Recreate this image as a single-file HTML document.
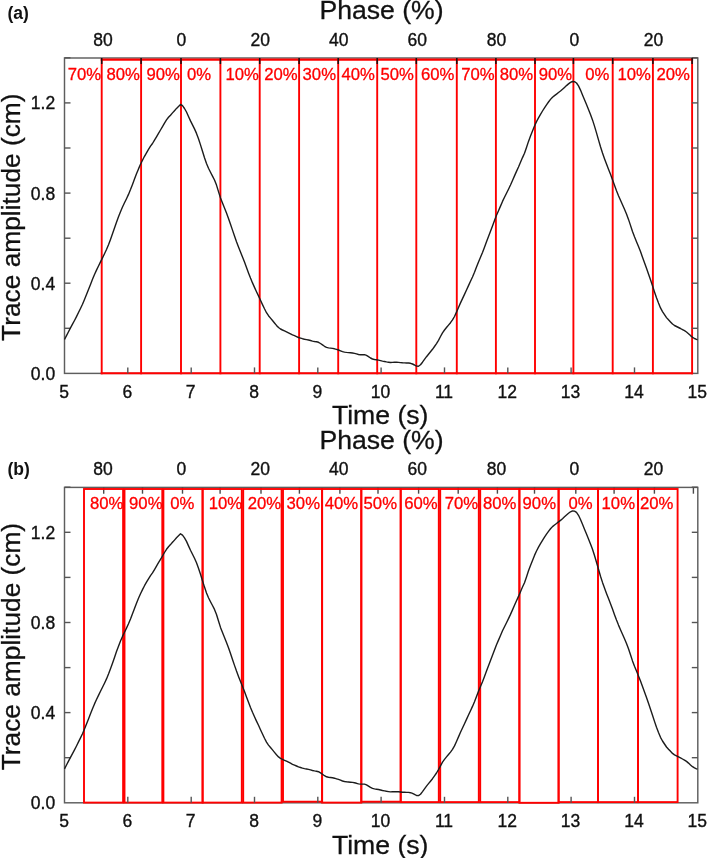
<!DOCTYPE html>
<html><head><meta charset="utf-8"><title>Trace amplitude vs time with phase bins</title>
<style>
html,body{margin:0;padding:0;background:#fff;}
svg{display:block;}
text{font-family:"Liberation Sans", sans-serif;}
.t{font-size:17.5px;fill:#111;stroke:#111;stroke-width:0.35px;}
.T{font-size:26.6px;fill:#111;stroke:#111;stroke-width:0.3px;}
.Tv{font-size:26.3px;}
.B{font-size:17.5px;font-weight:bold;fill:#111;}
.r{font-size:16.7px;fill:#ff0000;stroke:#ff0000;stroke-width:0.3px;}
</style></head>
<body>
<svg width="709" height="858" viewBox="0 0 709 858">
<rect width="709" height="858" fill="#fff"/>
<rect x="64.5" y="58.0" width="633.3" height="315.4" fill="none" stroke="#5e5e5e" stroke-width="1.45"/>
<line x1="100.7" y1="59.6" x2="693.1" y2="59.6" stroke="#ff0000" stroke-width="2.1"/>
<line x1="100.7" y1="373.2" x2="693.1" y2="373.2" stroke="#ff0000" stroke-width="2.1"/>
<line x1="101.7" y1="58.6" x2="101.7" y2="374.2" stroke="#ff0000" stroke-width="1.9"/>
<line x1="141.1" y1="58.6" x2="141.1" y2="374.2" stroke="#ff0000" stroke-width="1.9"/>
<line x1="181.0" y1="58.6" x2="181.0" y2="374.2" stroke="#ff0000" stroke-width="1.9"/>
<line x1="220.4" y1="58.6" x2="220.4" y2="374.2" stroke="#ff0000" stroke-width="1.9"/>
<line x1="259.7" y1="58.6" x2="259.7" y2="374.2" stroke="#ff0000" stroke-width="1.9"/>
<line x1="299.1" y1="58.6" x2="299.1" y2="374.2" stroke="#ff0000" stroke-width="1.9"/>
<line x1="338.2" y1="58.6" x2="338.2" y2="374.2" stroke="#ff0000" stroke-width="1.9"/>
<line x1="377.2" y1="58.6" x2="377.2" y2="374.2" stroke="#ff0000" stroke-width="1.9"/>
<line x1="416.3" y1="58.6" x2="416.3" y2="374.2" stroke="#ff0000" stroke-width="1.9"/>
<line x1="456.8" y1="58.6" x2="456.8" y2="374.2" stroke="#ff0000" stroke-width="1.9"/>
<line x1="495.9" y1="58.6" x2="495.9" y2="374.2" stroke="#ff0000" stroke-width="1.9"/>
<line x1="535.0" y1="58.6" x2="535.0" y2="374.2" stroke="#ff0000" stroke-width="1.9"/>
<line x1="573.4" y1="58.6" x2="573.4" y2="374.2" stroke="#ff0000" stroke-width="1.9"/>
<line x1="612.7" y1="58.6" x2="612.7" y2="374.2" stroke="#ff0000" stroke-width="1.9"/>
<line x1="652.9" y1="58.6" x2="652.9" y2="374.2" stroke="#ff0000" stroke-width="1.9"/>
<line x1="692.1" y1="58.6" x2="692.1" y2="374.2" stroke="#ff0000" stroke-width="1.9"/>
<line x1="127.8" y1="373.4" x2="127.8" y2="367.4" stroke="#555555" stroke-width="1.4"/>
<line x1="191.2" y1="373.4" x2="191.2" y2="367.4" stroke="#555555" stroke-width="1.4"/>
<line x1="254.5" y1="373.4" x2="254.5" y2="367.4" stroke="#555555" stroke-width="1.4"/>
<line x1="317.8" y1="373.4" x2="317.8" y2="367.4" stroke="#555555" stroke-width="1.4"/>
<line x1="381.1" y1="373.4" x2="381.1" y2="367.4" stroke="#555555" stroke-width="1.4"/>
<line x1="444.5" y1="373.4" x2="444.5" y2="367.4" stroke="#555555" stroke-width="1.4"/>
<line x1="507.8" y1="373.4" x2="507.8" y2="367.4" stroke="#555555" stroke-width="1.4"/>
<line x1="571.1" y1="373.4" x2="571.1" y2="367.4" stroke="#555555" stroke-width="1.4"/>
<line x1="634.5" y1="373.4" x2="634.5" y2="367.4" stroke="#555555" stroke-width="1.4"/>
<line x1="64.5" y1="328.3" x2="70.5" y2="328.3" stroke="#555555" stroke-width="1.4"/>
<line x1="697.8" y1="328.3" x2="691.8" y2="328.3" stroke="#555555" stroke-width="1.4"/>
<line x1="64.5" y1="283.2" x2="70.5" y2="283.2" stroke="#555555" stroke-width="1.4"/>
<line x1="697.8" y1="283.2" x2="691.8" y2="283.2" stroke="#555555" stroke-width="1.4"/>
<line x1="64.5" y1="238.2" x2="70.5" y2="238.2" stroke="#555555" stroke-width="1.4"/>
<line x1="697.8" y1="238.2" x2="691.8" y2="238.2" stroke="#555555" stroke-width="1.4"/>
<line x1="64.5" y1="193.1" x2="70.5" y2="193.1" stroke="#555555" stroke-width="1.4"/>
<line x1="697.8" y1="193.1" x2="691.8" y2="193.1" stroke="#555555" stroke-width="1.4"/>
<line x1="64.5" y1="148.0" x2="70.5" y2="148.0" stroke="#555555" stroke-width="1.4"/>
<line x1="697.8" y1="148.0" x2="691.8" y2="148.0" stroke="#555555" stroke-width="1.4"/>
<line x1="64.5" y1="102.9" x2="70.5" y2="102.9" stroke="#555555" stroke-width="1.4"/>
<line x1="697.8" y1="102.9" x2="691.8" y2="102.9" stroke="#555555" stroke-width="1.4"/>
<line x1="64.5" y1="57.8" x2="70.5" y2="57.8" stroke="#555555" stroke-width="1.4"/>
<line x1="697.8" y1="57.8" x2="691.8" y2="57.8" stroke="#555555" stroke-width="1.4"/>
<line x1="101.7" y1="58.0" x2="101.7" y2="64.0" stroke="#111" stroke-width="1.5"/>
<line x1="141.1" y1="58.0" x2="141.1" y2="64.0" stroke="#111" stroke-width="1.5"/>
<line x1="181.0" y1="58.0" x2="181.0" y2="64.0" stroke="#111" stroke-width="1.5"/>
<line x1="220.4" y1="58.0" x2="220.4" y2="64.0" stroke="#111" stroke-width="1.5"/>
<line x1="259.7" y1="58.0" x2="259.7" y2="64.0" stroke="#111" stroke-width="1.5"/>
<line x1="299.1" y1="58.0" x2="299.1" y2="64.0" stroke="#111" stroke-width="1.5"/>
<line x1="338.2" y1="58.0" x2="338.2" y2="64.0" stroke="#111" stroke-width="1.5"/>
<line x1="377.2" y1="58.0" x2="377.2" y2="64.0" stroke="#111" stroke-width="1.5"/>
<line x1="416.3" y1="58.0" x2="416.3" y2="64.0" stroke="#111" stroke-width="1.5"/>
<line x1="456.8" y1="58.0" x2="456.8" y2="64.0" stroke="#111" stroke-width="1.5"/>
<line x1="495.9" y1="58.0" x2="495.9" y2="64.0" stroke="#111" stroke-width="1.5"/>
<line x1="535.0" y1="58.0" x2="535.0" y2="64.0" stroke="#111" stroke-width="1.5"/>
<line x1="573.4" y1="58.0" x2="573.4" y2="64.0" stroke="#111" stroke-width="1.5"/>
<line x1="612.7" y1="58.0" x2="612.7" y2="64.0" stroke="#111" stroke-width="1.5"/>
<line x1="652.9" y1="58.0" x2="652.9" y2="64.0" stroke="#111" stroke-width="1.5"/>
<line x1="692.1" y1="58.0" x2="692.1" y2="64.0" stroke="#111" stroke-width="1.5"/>
<path d="M64.5 339.5 66.5 335.6 68.5 331.7 70.5 327.9 72.5 324.2 74.5 320.5 76.5 316.6 78.5 312.5 80.5 308.5 82.5 304.3 84.5 299.5 86.5 294.5 88.5 289.5 90.5 284.4 92.5 279.3 94.5 274.5 96.5 270.1 98.5 266.0 100.5 261.9 102.5 257.9 104.5 253.8 106.5 249.5 108.5 244.7 110.5 239.4 112.5 233.8 114.5 228.0 116.5 222.2 118.5 216.8 120.5 211.7 122.5 207.0 124.5 202.8 126.5 198.7 128.5 194.4 130.5 189.6 132.5 184.4 134.5 179.0 136.5 173.8 138.5 168.9 140.5 164.3 142.5 160.2 144.5 156.3 146.5 152.8 148.5 149.4 150.5 146.2 152.5 143.5 154.5 140.2 156.5 136.8 158.5 133.3 160.5 130.0 162.5 126.6 164.5 123.1 166.5 119.9 168.5 117.3 170.5 115.2 172.5 112.9 174.5 110.7 176.5 108.4 178.5 106.4 180.5 104.4 182.5 105.7 184.5 108.5 186.5 112.0 188.5 116.5 190.5 120.9 192.5 124.9 194.5 128.9 196.5 133.4 198.5 138.8 200.5 144.9 202.5 151.3 204.5 157.7 206.5 163.5 208.5 168.3 210.5 172.3 212.5 176.1 214.5 180.0 216.5 185.1 218.5 191.6 220.5 198.0 222.5 203.1 224.5 208.0 226.5 213.1 228.5 218.4 230.5 224.2 232.5 230.1 234.5 236.0 236.5 241.7 238.5 247.0 240.5 252.1 242.5 257.0 244.5 262.0 246.5 267.5 248.5 272.9 250.5 278.1 252.5 282.9 254.5 287.4 256.5 291.7 258.5 295.9 260.5 300.3 262.5 304.6 264.5 308.8 266.5 312.7 268.5 315.7 270.5 318.1 272.5 320.5 274.5 323.0 276.5 325.4 278.5 327.5 280.5 329.0 282.5 330.0 284.5 330.9 286.5 331.8 288.5 332.8 290.5 333.8 292.5 334.9 294.5 335.7 296.5 336.6 298.5 337.5 300.5 338.1 302.5 338.7 304.5 339.2 306.5 339.6 308.5 340.0 310.5 340.5 312.5 341.1 314.5 341.5 316.5 341.8 318.5 342.3 320.5 343.5 322.5 344.9 324.5 346.3 326.5 347.4 328.5 347.9 330.5 348.1 332.5 348.4 334.5 348.8 336.5 349.4 338.5 350.0 340.5 350.8 342.5 351.6 344.5 352.1 346.5 352.4 348.5 352.6 350.5 352.8 352.5 353.0 354.5 353.4 356.5 353.9 358.5 354.5 360.5 354.7 362.5 354.7 364.5 354.7 366.5 355.4 368.5 356.7 370.5 358.0 372.5 359.0 374.5 359.5 376.5 359.8 378.5 360.1 380.5 360.6 382.5 361.1 384.5 361.5 386.5 361.9 388.5 362.2 390.5 362.5 392.5 362.4 394.5 362.3 396.5 362.2 398.5 362.4 400.5 362.6 402.5 362.8 404.5 362.9 406.5 363.0 408.5 363.0 410.5 363.3 412.5 364.0 414.5 365.0 416.5 366.1 418.5 366.2 420.5 364.8 422.5 362.2 424.5 359.4 426.5 356.7 428.5 354.2 430.5 351.8 432.5 349.3 434.5 346.5 436.5 343.6 438.5 340.3 440.5 336.5 442.5 332.8 444.5 330.0 446.5 327.5 448.5 325.1 450.5 322.7 452.5 319.9 454.5 316.5 456.5 312.1 458.5 307.5 460.5 302.9 462.5 298.6 464.5 294.4 466.5 290.0 468.5 285.6 470.5 281.3 472.5 277.0 474.5 272.3 476.5 267.1 478.5 261.9 480.5 257.2 482.5 252.4 484.5 247.2 486.5 241.7 488.5 236.4 490.5 231.2 492.5 225.9 494.5 220.5 496.5 215.3 498.5 210.7 500.5 206.1 502.5 201.4 504.5 197.3 506.5 193.3 508.5 189.2 510.5 185.0 512.5 180.5 514.5 175.9 516.5 171.4 518.5 167.0 520.5 162.3 522.5 157.6 524.5 153.3 526.5 147.5 528.5 141.4 530.5 136.0 532.5 131.0 534.5 126.0 536.5 121.6 538.5 117.8 540.5 114.3 542.5 111.0 544.5 107.8 546.5 104.8 548.5 102.0 550.5 99.4 552.5 97.2 554.5 95.6 556.5 94.1 558.5 92.5 560.5 91.0 562.5 89.3 564.5 87.4 566.5 85.6 568.5 83.9 570.5 82.4 572.5 81.5 574.5 81.7 576.5 83.0 578.5 85.9 580.5 90.1 582.5 94.9 584.5 99.8 586.5 104.6 588.5 109.5 590.5 114.5 592.5 119.9 594.5 126.1 596.5 132.9 598.5 139.9 600.5 146.8 602.5 153.0 604.5 158.7 606.5 164.1 608.5 169.2 610.5 174.3 612.5 179.7 614.5 185.3 616.5 190.7 618.5 195.7 620.5 200.3 622.5 204.8 624.5 209.3 626.5 214.0 628.5 219.4 630.5 225.4 632.5 231.5 634.5 236.8 636.5 241.7 638.5 246.5 640.5 251.6 642.5 257.2 644.5 262.7 646.5 268.2 648.5 273.9 650.5 279.8 652.5 285.8 654.5 292.0 656.5 297.8 658.5 303.1 660.5 307.9 662.5 311.6 664.5 314.6 666.5 317.6 668.5 319.8 670.5 321.9 672.5 324.0 674.5 325.5 676.5 326.5 678.5 327.5 680.5 328.5 682.5 329.6 684.5 330.7 686.5 332.0 688.5 333.7 690.5 335.6 692.5 337.3 694.5 338.5 696.5 339.4 697.5 339.8" fill="none" stroke="#1c1c1c" stroke-width="1.4" stroke-linejoin="round"/>
<text x="67.8" y="79.6" class="r">70%</text>
<text x="106.5" y="79.6" class="r">80%</text>
<text x="146.5" y="79.6" class="r">90%</text>
<text x="187.1" y="79.6" class="r">0%</text>
<text x="225.4" y="79.6" class="r">10%</text>
<text x="264.2" y="79.6" class="r">20%</text>
<text x="302.6" y="79.6" class="r">30%</text>
<text x="341.4" y="79.6" class="r">40%</text>
<text x="380.4" y="79.6" class="r">50%</text>
<text x="421.0" y="79.6" class="r">60%</text>
<text x="461.3" y="79.6" class="r">70%</text>
<text x="499.7" y="79.6" class="r">80%</text>
<text x="538.7" y="79.6" class="r">90%</text>
<text x="585.2" y="79.6" class="r">0%</text>
<text x="617.4" y="79.6" class="r">10%</text>
<text x="656.5" y="79.6" class="r">20%</text>
<text x="102.9" y="45.9" class="t" text-anchor="middle">80</text>
<text x="181.3" y="45.9" class="t" text-anchor="middle">0</text>
<text x="260.2" y="45.9" class="t" text-anchor="middle">20</text>
<text x="338.7" y="45.9" class="t" text-anchor="middle">40</text>
<text x="417.3" y="45.9" class="t" text-anchor="middle">60</text>
<text x="496.6" y="45.9" class="t" text-anchor="middle">80</text>
<text x="574.3" y="45.9" class="t" text-anchor="middle">0</text>
<text x="653.5" y="45.9" class="t" text-anchor="middle">20</text>
<text x="55.2" y="379.9" class="t" text-anchor="end">0.0</text>
<text x="55.2" y="289.7" class="t" text-anchor="end">0.4</text>
<text x="55.2" y="199.6" class="t" text-anchor="end">0.8</text>
<text x="55.2" y="109.4" class="t" text-anchor="end">1.2</text>
<text x="64.0" y="398.0" class="t" text-anchor="middle">5</text>
<text x="127.3" y="398.0" class="t" text-anchor="middle">6</text>
<text x="190.7" y="398.0" class="t" text-anchor="middle">7</text>
<text x="254.0" y="398.0" class="t" text-anchor="middle">8</text>
<text x="317.3" y="398.0" class="t" text-anchor="middle">9</text>
<text x="380.6" y="398.0" class="t" text-anchor="middle">10</text>
<text x="444.0" y="398.0" class="t" text-anchor="middle">11</text>
<text x="507.3" y="398.0" class="t" text-anchor="middle">12</text>
<text x="570.6" y="398.0" class="t" text-anchor="middle">13</text>
<text x="634.0" y="398.0" class="t" text-anchor="middle">14</text>
<text x="697.3" y="398.0" class="t" text-anchor="middle">15</text>
<text x="381.5" y="19.4" class="T" text-anchor="middle">Phase (%)</text>
<text x="380.2" y="424.4" class="T" text-anchor="middle">Time (s)</text>
<text transform="translate(20.2,217.2) rotate(-90)" class="T Tv" text-anchor="middle">Trace amplitude (cm)</text>
<text x="7.4" y="19.0" class="B">(a)</text>
<rect x="64.5" y="487.4" width="633.3" height="315.4" fill="none" stroke="#5e5e5e" stroke-width="1.45"/>
<line x1="103.7" y1="487.4" x2="103.7" y2="493.7" stroke="#4a4a4a" stroke-width="1.4"/>
<line x1="142.5" y1="487.4" x2="142.5" y2="493.7" stroke="#4a4a4a" stroke-width="1.4"/>
<line x1="182.5" y1="487.4" x2="182.5" y2="493.7" stroke="#4a4a4a" stroke-width="1.4"/>
<line x1="220.1" y1="487.4" x2="220.1" y2="493.7" stroke="#4a4a4a" stroke-width="1.4"/>
<line x1="261.0" y1="487.4" x2="261.0" y2="493.7" stroke="#4a4a4a" stroke-width="1.4"/>
<line x1="299.4" y1="487.4" x2="299.4" y2="493.7" stroke="#4a4a4a" stroke-width="1.4"/>
<line x1="339.9" y1="487.4" x2="339.9" y2="493.7" stroke="#4a4a4a" stroke-width="1.4"/>
<line x1="378.0" y1="487.4" x2="378.0" y2="493.7" stroke="#4a4a4a" stroke-width="1.4"/>
<line x1="418.6" y1="487.4" x2="418.6" y2="493.7" stroke="#4a4a4a" stroke-width="1.4"/>
<line x1="458.2" y1="487.4" x2="458.2" y2="493.7" stroke="#4a4a4a" stroke-width="1.4"/>
<line x1="497.4" y1="487.4" x2="497.4" y2="493.7" stroke="#4a4a4a" stroke-width="1.4"/>
<line x1="534.5" y1="487.4" x2="534.5" y2="493.7" stroke="#4a4a4a" stroke-width="1.4"/>
<line x1="575.8" y1="487.4" x2="575.8" y2="493.7" stroke="#4a4a4a" stroke-width="1.4"/>
<line x1="614.1" y1="487.4" x2="614.1" y2="493.7" stroke="#4a4a4a" stroke-width="1.4"/>
<line x1="654.4" y1="487.4" x2="654.4" y2="493.7" stroke="#4a4a4a" stroke-width="1.4"/>
<line x1="693.4" y1="487.4" x2="693.4" y2="493.7" stroke="#4a4a4a" stroke-width="1.4"/>
<rect x="84.0" y="489.0" width="39.1" height="313.6" fill="none" stroke="#ff0000" stroke-width="1.9"/>
<rect x="124.5" y="489.0" width="37.8" height="313.6" fill="none" stroke="#ff0000" stroke-width="1.9"/>
<rect x="163.4" y="489.0" width="39.2" height="313.6" fill="none" stroke="#ff0000" stroke-width="1.9"/>
<rect x="202.6" y="489.0" width="39.2" height="313.6" fill="none" stroke="#ff0000" stroke-width="1.9"/>
<rect x="243.2" y="489.0" width="38.4" height="313.6" fill="none" stroke="#ff0000" stroke-width="1.9"/>
<rect x="283.0" y="489.0" width="39.1" height="312.7" fill="none" stroke="#ff0000" stroke-width="1.9"/>
<rect x="322.1" y="489.0" width="39.2" height="313.6" fill="none" stroke="#ff0000" stroke-width="1.9"/>
<rect x="361.3" y="489.0" width="39.4" height="312.7" fill="none" stroke="#ff0000" stroke-width="1.9"/>
<rect x="400.7" y="489.0" width="38.1" height="313.1" fill="none" stroke="#ff0000" stroke-width="1.9"/>
<rect x="440.2" y="489.0" width="38.6" height="313.1" fill="none" stroke="#ff0000" stroke-width="1.9"/>
<rect x="480.2" y="489.0" width="39.2" height="313.1" fill="none" stroke="#ff0000" stroke-width="1.9"/>
<rect x="519.4" y="489.0" width="39.2" height="313.8" fill="none" stroke="#ff0000" stroke-width="1.9"/>
<rect x="558.6" y="489.0" width="39.4" height="313.1" fill="none" stroke="#ff0000" stroke-width="1.9"/>
<rect x="598.0" y="489.0" width="40.0" height="313.1" fill="none" stroke="#ff0000" stroke-width="1.9"/>
<rect x="638.0" y="489.0" width="39.6" height="313.1" fill="none" stroke="#ff0000" stroke-width="1.9"/>
<line x1="127.8" y1="802.8" x2="127.8" y2="796.8" stroke="#555555" stroke-width="1.4"/>
<line x1="191.2" y1="802.8" x2="191.2" y2="796.8" stroke="#555555" stroke-width="1.4"/>
<line x1="254.5" y1="802.8" x2="254.5" y2="796.8" stroke="#555555" stroke-width="1.4"/>
<line x1="317.8" y1="802.8" x2="317.8" y2="796.8" stroke="#555555" stroke-width="1.4"/>
<line x1="381.1" y1="802.8" x2="381.1" y2="796.8" stroke="#555555" stroke-width="1.4"/>
<line x1="444.5" y1="802.8" x2="444.5" y2="796.8" stroke="#555555" stroke-width="1.4"/>
<line x1="507.8" y1="802.8" x2="507.8" y2="796.8" stroke="#555555" stroke-width="1.4"/>
<line x1="571.1" y1="802.8" x2="571.1" y2="796.8" stroke="#555555" stroke-width="1.4"/>
<line x1="634.5" y1="802.8" x2="634.5" y2="796.8" stroke="#555555" stroke-width="1.4"/>
<line x1="64.5" y1="757.7" x2="70.5" y2="757.7" stroke="#555555" stroke-width="1.4"/>
<line x1="697.8" y1="757.7" x2="691.8" y2="757.7" stroke="#555555" stroke-width="1.4"/>
<line x1="64.5" y1="712.6" x2="70.5" y2="712.6" stroke="#555555" stroke-width="1.4"/>
<line x1="697.8" y1="712.6" x2="691.8" y2="712.6" stroke="#555555" stroke-width="1.4"/>
<line x1="64.5" y1="667.6" x2="70.5" y2="667.6" stroke="#555555" stroke-width="1.4"/>
<line x1="697.8" y1="667.6" x2="691.8" y2="667.6" stroke="#555555" stroke-width="1.4"/>
<line x1="64.5" y1="622.5" x2="70.5" y2="622.5" stroke="#555555" stroke-width="1.4"/>
<line x1="697.8" y1="622.5" x2="691.8" y2="622.5" stroke="#555555" stroke-width="1.4"/>
<line x1="64.5" y1="577.4" x2="70.5" y2="577.4" stroke="#555555" stroke-width="1.4"/>
<line x1="697.8" y1="577.4" x2="691.8" y2="577.4" stroke="#555555" stroke-width="1.4"/>
<line x1="64.5" y1="532.3" x2="70.5" y2="532.3" stroke="#555555" stroke-width="1.4"/>
<line x1="697.8" y1="532.3" x2="691.8" y2="532.3" stroke="#555555" stroke-width="1.4"/>
<line x1="64.5" y1="487.2" x2="70.5" y2="487.2" stroke="#555555" stroke-width="1.4"/>
<line x1="697.8" y1="487.2" x2="691.8" y2="487.2" stroke="#555555" stroke-width="1.4"/>
<path d="M64.5 768.9 66.5 765.0 68.5 761.1 70.5 757.3 72.5 753.6 74.5 749.9 76.5 746.0 78.5 741.9 80.5 737.9 82.5 733.7 84.5 728.9 86.5 723.9 88.5 718.9 90.5 713.8 92.5 708.7 94.5 703.9 96.5 699.5 98.5 695.4 100.5 691.3 102.5 687.3 104.5 683.2 106.5 678.9 108.5 674.1 110.5 668.8 112.5 663.2 114.5 657.4 116.5 651.6 118.5 646.2 120.5 641.1 122.5 636.4 124.5 632.2 126.5 628.1 128.5 623.8 130.5 619.0 132.5 613.8 134.5 608.4 136.5 603.2 138.5 598.3 140.5 593.7 142.5 589.6 144.5 585.7 146.5 582.2 148.5 578.8 150.5 575.6 152.5 572.9 154.5 569.6 156.5 566.2 158.5 562.7 160.5 559.4 162.5 556.0 164.5 552.5 166.5 549.3 168.5 546.7 170.5 544.6 172.5 542.3 174.5 540.1 176.5 537.8 178.5 535.8 180.5 533.8 182.5 535.1 184.5 537.9 186.5 541.4 188.5 545.9 190.5 550.3 192.5 554.3 194.5 558.3 196.5 562.8 198.5 568.2 200.5 574.3 202.5 580.7 204.5 587.1 206.5 592.9 208.5 597.7 210.5 601.7 212.5 605.5 214.5 609.4 216.5 614.5 218.5 621.0 220.5 627.4 222.5 632.5 224.5 637.4 226.5 642.5 228.5 647.8 230.5 653.6 232.5 659.5 234.5 665.4 236.5 671.1 238.5 676.4 240.5 681.5 242.5 686.4 244.5 691.4 246.5 696.9 248.5 702.3 250.5 707.5 252.5 712.3 254.5 716.8 256.5 721.1 258.5 725.3 260.5 729.7 262.5 734.0 264.5 738.2 266.5 742.1 268.5 745.1 270.5 747.5 272.5 749.9 274.5 752.4 276.5 754.8 278.5 756.9 280.5 758.4 282.5 759.4 284.5 760.3 286.5 761.2 288.5 762.2 290.5 763.2 292.5 764.3 294.5 765.1 296.5 766.0 298.5 766.9 300.5 767.5 302.5 768.1 304.5 768.6 306.5 769.0 308.5 769.4 310.5 769.9 312.5 770.5 314.5 770.9 316.5 771.2 318.5 771.7 320.5 772.9 322.5 774.3 324.5 775.7 326.5 776.8 328.5 777.3 330.5 777.5 332.5 777.8 334.5 778.2 336.5 778.8 338.5 779.4 340.5 780.2 342.5 781.0 344.5 781.5 346.5 781.8 348.5 782.0 350.5 782.2 352.5 782.4 354.5 782.8 356.5 783.3 358.5 783.9 360.5 784.1 362.5 784.1 364.5 784.1 366.5 784.8 368.5 786.1 370.5 787.4 372.5 788.4 374.5 788.9 376.5 789.2 378.5 789.5 380.5 790.0 382.5 790.5 384.5 790.9 386.5 791.3 388.5 791.6 390.5 791.9 392.5 791.8 394.5 791.7 396.5 791.6 398.5 791.8 400.5 792.0 402.5 792.2 404.5 792.3 406.5 792.4 408.5 792.4 410.5 792.7 412.5 793.4 414.5 794.4 416.5 795.5 418.5 795.6 420.5 794.2 422.5 791.6 424.5 788.8 426.5 786.1 428.5 783.6 430.5 781.2 432.5 778.7 434.5 775.9 436.5 773.0 438.5 769.7 440.5 765.9 442.5 762.2 444.5 759.4 446.5 756.9 448.5 754.5 450.5 752.1 452.5 749.3 454.5 745.9 456.5 741.5 458.5 736.9 460.5 732.3 462.5 728.0 464.5 723.8 466.5 719.4 468.5 715.0 470.5 710.7 472.5 706.4 474.5 701.7 476.5 696.5 478.5 691.3 480.5 686.6 482.5 681.8 484.5 676.6 486.5 671.1 488.5 665.8 490.5 660.6 492.5 655.3 494.5 649.9 496.5 644.7 498.5 640.1 500.5 635.5 502.5 630.8 504.5 626.7 506.5 622.7 508.5 618.6 510.5 614.4 512.5 609.9 514.5 605.3 516.5 600.8 518.5 596.4 520.5 591.7 522.5 587.0 524.5 582.7 526.5 576.9 528.5 570.8 530.5 565.4 532.5 560.4 534.5 555.4 536.5 551.0 538.5 547.2 540.5 543.7 542.5 540.4 544.5 537.2 546.5 534.2 548.5 531.4 550.5 528.8 552.5 526.6 554.5 525.0 556.5 523.5 558.5 521.9 560.5 520.4 562.5 518.7 564.5 516.8 566.5 515.0 568.5 513.3 570.5 511.8 572.5 510.9 574.5 511.1 576.5 512.4 578.5 515.3 580.5 519.5 582.5 524.3 584.5 529.2 586.5 534.0 588.5 538.9 590.5 543.9 592.5 549.3 594.5 555.5 596.5 562.3 598.5 569.3 600.5 576.2 602.5 582.4 604.5 588.1 606.5 593.5 608.5 598.6 610.5 603.7 612.5 609.1 614.5 614.7 616.5 620.1 618.5 625.1 620.5 629.7 622.5 634.2 624.5 638.7 626.5 643.4 628.5 648.8 630.5 654.8 632.5 660.9 634.5 666.2 636.5 671.1 638.5 675.9 640.5 681.0 642.5 686.6 644.5 692.1 646.5 697.6 648.5 703.3 650.5 709.2 652.5 715.2 654.5 721.4 656.5 727.2 658.5 732.5 660.5 737.3 662.5 741.0 664.5 744.0 666.5 747.0 668.5 749.2 670.5 751.3 672.5 753.4 674.5 754.9 676.5 755.9 678.5 756.9 680.5 757.9 682.5 759.0 684.5 760.1 686.5 761.4 688.5 763.1 690.5 765.0 692.5 766.7 694.5 767.9 696.5 768.8 697.5 769.2" fill="none" stroke="#1c1c1c" stroke-width="1.4" stroke-linejoin="round"/>
<text x="90.0" y="509.3" class="r">80%</text>
<text x="129.1" y="509.3" class="r">90%</text>
<text x="170.2" y="509.3" class="r">0%</text>
<text x="208.8" y="509.3" class="r">10%</text>
<text x="247.8" y="509.3" class="r">20%</text>
<text x="286.6" y="509.3" class="r">30%</text>
<text x="324.8" y="509.3" class="r">40%</text>
<text x="363.6" y="509.3" class="r">50%</text>
<text x="404.2" y="509.3" class="r">60%</text>
<text x="444.7" y="509.3" class="r">70%</text>
<text x="482.9" y="509.3" class="r">80%</text>
<text x="522.6" y="509.3" class="r">90%</text>
<text x="568.5" y="509.3" class="r">0%</text>
<text x="601.6" y="509.3" class="r">10%</text>
<text x="640.0" y="509.3" class="r">20%</text>
<text x="102.9" y="475.3" class="t" text-anchor="middle">80</text>
<text x="181.3" y="475.3" class="t" text-anchor="middle">0</text>
<text x="260.2" y="475.3" class="t" text-anchor="middle">20</text>
<text x="338.7" y="475.3" class="t" text-anchor="middle">40</text>
<text x="417.3" y="475.3" class="t" text-anchor="middle">60</text>
<text x="496.6" y="475.3" class="t" text-anchor="middle">80</text>
<text x="574.3" y="475.3" class="t" text-anchor="middle">0</text>
<text x="653.5" y="475.3" class="t" text-anchor="middle">20</text>
<text x="55.2" y="809.3" class="t" text-anchor="end">0.0</text>
<text x="55.2" y="719.1" class="t" text-anchor="end">0.4</text>
<text x="55.2" y="629.0" class="t" text-anchor="end">0.8</text>
<text x="55.2" y="538.8" class="t" text-anchor="end">1.2</text>
<text x="64.0" y="827.4" class="t" text-anchor="middle">5</text>
<text x="127.3" y="827.4" class="t" text-anchor="middle">6</text>
<text x="190.7" y="827.4" class="t" text-anchor="middle">7</text>
<text x="254.0" y="827.4" class="t" text-anchor="middle">8</text>
<text x="317.3" y="827.4" class="t" text-anchor="middle">9</text>
<text x="380.6" y="827.4" class="t" text-anchor="middle">10</text>
<text x="444.0" y="827.4" class="t" text-anchor="middle">11</text>
<text x="507.3" y="827.4" class="t" text-anchor="middle">12</text>
<text x="570.6" y="827.4" class="t" text-anchor="middle">13</text>
<text x="634.0" y="827.4" class="t" text-anchor="middle">14</text>
<text x="697.3" y="827.4" class="t" text-anchor="middle">15</text>
<text x="381.5" y="448.8" class="T" text-anchor="middle">Phase (%)</text>
<text x="380.2" y="853.8" class="T" text-anchor="middle">Time (s)</text>
<text transform="translate(20.2,646.6) rotate(-90)" class="T Tv" text-anchor="middle">Trace amplitude (cm)</text>
<text x="7.4" y="475.0" class="B">(b)</text>
</svg>
</body></html>
